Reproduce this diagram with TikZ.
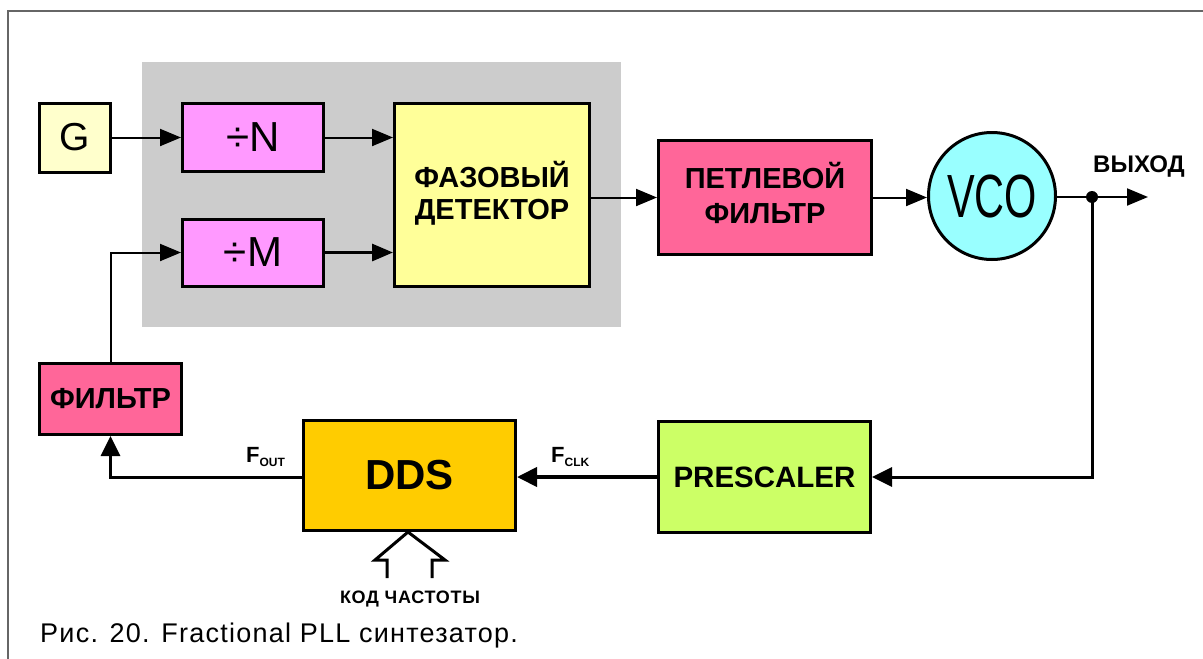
\documentclass[tikz,border=0pt]{standalone}
\usepackage{fontspec}
\setmainfont{Liberation Sans}
\usetikzlibrary{arrows.meta,calc}
\definecolor{cG}{HTML}{FFFFCC}
\definecolor{cDiv}{HTML}{FF99FF}
\definecolor{cPD}{HTML}{FFFF99}
\definecolor{cLF}{HTML}{FF6699}
\definecolor{cVCO}{HTML}{99FFFF}
\definecolor{cDDS}{HTML}{FFCC00}
\definecolor{cPre}{HTML}{CCFF66}
\definecolor{cGray}{HTML}{CCCCCC}
\definecolor{cFrame}{HTML}{666666}
\newcommand{\fsz}[1]{\fontsize{#1}{#1}\selectfont}
\newcommand{\twoline}[3]{\raisebox{-3pt}{\begin{tabular}{@{}c@{}}#1\\[#3]#2\end{tabular}}}
\begin{document}
\begin{tikzpicture}[x=1pt,y=-1pt,
  blk/.style={draw=black,line width=3pt,inner sep=0pt,align=center},
  conn/.style={line width=2pt,-{Triangle[length=21pt,width=17pt]}},
  fb/.style={line width=3pt,-{Triangle[length=20pt,width=19pt]}},
  lbl/.style={inner sep=0pt,font=\bfseries}]
\useasboundingbox (0,0) rectangle (1203,659);
% frame
\draw[line width=2pt,cFrame] (8,665) -- (8,11) -- (1210,11);
% gray background
\fill[cGray] (142,62) rectangle (621,327);
% blocks
\node[blk,fill=cG,minimum width=71pt,minimum height=69pt,font=\fsz{39}] (g) at (75,137.5) {G};
\node[blk,fill=cDiv,minimum width=141pt,minimum height=68pt,font=\fsz{42}] (divN) at (253,137.5) {÷N};
\node[blk,fill=cDiv,minimum width=141pt,minimum height=67pt,font=\fsz{42}] (divM) at (253,252.5) {÷M};
\node[blk,fill=cPD,minimum width=195pt,minimum height=183pt,font=\fsz{29}\bfseries] (pd) at (492,195) {\twoline{ФАЗОВЫЙ}{ДЕТЕКТОР}{3pt}};
\node[blk,fill=cLF,minimum width=213pt,minimum height=114pt,font=\fsz{29}\bfseries] (lf) at (765,197.5) {\twoline{ПЕТЛЕВОЙ}{ФИЛЬТР}{6pt}};
\node[blk,circle,fill=cVCO,minimum size=127pt,font=\fsz{61}] (vco) at (992,196) {\scalebox{0.68}[1]{VCO}};
\node[blk,fill=cLF,minimum width=142pt,minimum height=71pt,font=\fsz{29}\bfseries] (flt) at (110.5,399) {ФИЛЬТР};
\node[blk,fill=cDDS,minimum width=212pt,minimum height=110pt,font=\fsz{42}\bfseries] (dds) at (409.5,475.5) {DDS};
\node[blk,fill=cPre,minimum width=212pt,minimum height=111pt,font=\fsz{29.5}\bfseries] (pre) at (764.5,477) {PRESCALER};
% coordinates
\coordinate (dot) at (1092,197);
\coordinate (out) at (1148,197);
\coordinate (busL) at (387,578);
\coordinate (busR) at (432,578);
% connectors
\draw[conn] (g.east) -- (divN.west);
\draw[conn] (divN.east) -- (pd.west |- divN.east);
\draw[conn,line width=3pt] (divM.east) -- (pd.west |- divM.east);
\draw[conn] (pd.east |- lf.west) -- (lf.west);
\draw[conn] (lf.east) -- (vco.west |- lf.east);
\draw[conn] (vco.east |- dot) -- (out);
\fill (dot) circle (6pt);
\draw[fb] (dot) |- (pre.east);
\draw[fb,line width=4pt] (pre.west) -- (dds.east |- pre.west);
\draw[fb] (dds.west |- pre.west) -| (flt.south);
\draw[conn] (flt.north) |- (divM.west);
% bus arrow into DDS
\draw[line width=3pt,line join=miter] (busL) -- (387,560) -- (375,560) -- ($(dds.south)+(-1.5,0)$) -- (445,560) -- (432,560) -- (busR);
% labels
\node[lbl,anchor=base west] (foutl) at (246,462) {\fsz{22}F\raisebox{-4pt}{\fsz{12}OUT}};
\node[lbl,anchor=base west] (fclkl) at (551,462) {\fsz{22}F\raisebox{-4pt}{\fsz{12}CLK}};
\node[lbl,anchor=base] (outl) at (1139,172) {\fsz{24}ВЫХОД};
\node[lbl,anchor=base] (codel) at (410,603) {\fsz{18}\addfontfeatures{LetterSpace=4}КОД ЧАСТОТЫ};
\node[inner sep=0pt,anchor=base west] (cap) at (40,642) {\fsz{27}\addfontfeatures{LetterSpace=4.6}Рис. 20. Fractional PLL синтезатор.};
\end{tikzpicture}
\end{document}
